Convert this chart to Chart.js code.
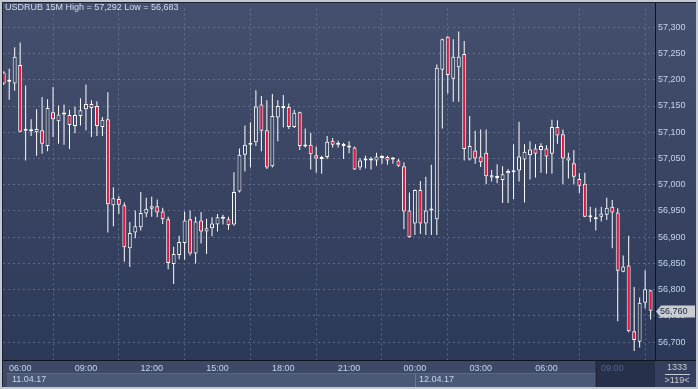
<!DOCTYPE html>
<html>
<head>
<meta charset="utf-8">
<script src="https://cdn.jsdelivr.net/npm/chart.js@4.4.0/dist/chart.umd.min.js"></script>
<style>
  html, body { margin: 0; padding: 0; background: #c4c8d0; }
  canvas { display: block; }
</style>
</head>
<body>
<canvas id="chart" width="698" height="389"></canvas>
<script>
// USDRUB 15M candles
const openP = [57214,57196,57193,57228,57103,57102,57100,57104,57074,57138,
  57121,57134,57133,57112,57131,57144,57154,57150,57110,57125,
  56961,56973,56961,56879,56909,56919,56945,56954,56959,56949,
  56934,56849,56866,56889,56934,56869,56932,56911,56917,56924,
  56935,56934,56924,56987,57057,57076,57081,57153,57104,57035,
  57128,57146,57148,57110,57138,57073,57076,57056,57049,57053,
  57084,57076,57074,57071,57071,57033,57046,57046,57046,57051,
  57053,57048,57046,57035,56951,56926,56990,56926,56951,56934,
  57219,57282,57202,57224,57249,57048,57065,57054,57061,57014,
  57013,57009,57022,57024,57027,57048,57056,57069,57066,57069,
  57059,57110,57096,57046,57041,57011,57002,56938,56934,56939,
  56943,56958,56947,56834,56846,56721,56701,56775,56799]
const highP = [57216,57221,57262,57271,57189,57125,57144,57167,57163,57186,
  57151,57153,57143,57149,57165,57191,57161,57159,57129,57176,
  56995,56978,56966,56929,56951,56986,56975,56977,56972,56956,
  56939,56882,56903,56949,56951,56939,56948,56935,56938,56944,
  56943,56939,57024,57069,57113,57119,57180,57169,57161,57173,
  57161,57171,57155,57143,57139,57107,57099,57073,57055,57093,
  57089,57084,57080,57083,57073,57051,57055,57053,57061,57056,
  57055,57053,57049,57043,56985,56991,57007,57015,57038,57229,
  57278,57283,57277,57292,57274,57131,57103,57105,57105,57028,
  57039,57035,57030,57077,57120,57077,57083,57077,57079,57075,
  57124,57123,57105,57061,57066,57022,57023,56958,56956,56958,
  56975,56971,56955,56865,56903,56805,56785,56837,56800]
const lowP = [57190,57162,57179,57100,57046,57093,57055,57059,57064,57091,
  57078,57076,57068,57098,57113,57104,57091,57093,57093,56909,
  56921,56944,56853,56843,56898,56913,56938,56939,56938,56925,
  56839,56811,56858,56857,56865,56850,56888,56868,56902,56911,
  56924,56914,56922,56985,57025,57033,57074,57064,57030,57033,
  57083,57109,57106,57108,57066,57071,57029,57023,57021,57049,
  57071,57071,57049,57060,57028,57028,57031,57029,57036,57040,
  57038,57040,57034,56915,56899,56904,56906,56904,56904,56904,
  57107,57174,57158,57158,57046,57046,57040,57034,57001,57006,
  57003,56965,56965,56973,57006,56966,57010,57014,57023,57021,
  57021,57078,57001,57012,57001,56984,56938,56929,56913,56930,
  56933,56879,56740,56833,56719,56683,56690,56764,56743]
const closeP = [57193,57197,57244,57101,57106,57102,57106,57078,57146,57125,
  57134,57134,57114,57133,57142,57154,57146,57112,57124,56963,
  56974,56962,56881,56908,56921,56946,56954,56959,56947,56934,
  56851,56868,56891,56932,56869,56930,56911,56917,56926,56938,
  56936,56923,56986,57057,57076,57080,57149,57103,57033,57131,
  57150,57146,57110,57137,57074,57076,57058,57050,57053,57082,
  57076,57076,57074,57071,57029,57046,57046,57046,57054,57051,
  57046,57048,57036,56949,56900,56990,56926,56951,56954,57223,
  57277,57209,57244,57244,57068,57074,57050,57043,57016,57018,
  57013,57020,57026,57024,57054,57063,57067,57059,57074,57054,
  57110,57094,57050,57052,57015,56998,56939,56938,56934,56945,
  56956,56947,56836,56844,56721,56704,56775,56801,56760]

const timeIdx = [3, 15, 27, 39, 51, 63, 75, 87, 99, 111]
const timeLabels = ["06:00", "09:00", "12:00", "15:00", "18:00", "21:00", "00:00", "03:00", "06:00", "09:00"]
const dateIdx = [0, 75]
const dateLabels = ["11.04.17", "12.04.17"]
const priceTicks = [56700, 56750, 56800, 56850, 56900, 56950, 57000, 57050, 57100, 57150, 57200, 57250, 57300]
const titleText = "USDRUB 15M High = 57,292 Low = 56,683"
const lastPrice = 56760
const liveFrom = 108
const barTotal = "1333"
const barShown = ">119<"

const FONT = "'Liberation Sans', Arial, sans-serif"
const tickColor = "#c4d4ee"
const gridColor = "rgba(125,140,170,0.55)"
const bearColor = "#e3163f"

const cv = document.getElementById("chart")
const c2d = cv.getContext("2d")
const bgGrad = c2d.createLinearGradient(0, 0, 0, 389)
bgGrad.addColorStop(0, "#44506d")
bgGrad.addColorStop(1, "#2b3756")

function fmt(v) {
    let s = String(Math.round(v))
    return s.slice(0, s.length - 3) + "," + s.slice(-3)
}

let wicks = []
let bodies = []
for (let i = 0; i < openP.length; i++) {
    wicks.push({x: i, y: [lowP[i], highP[i]]})
    bodies.push({x: i, y: [openP[i], closeP[i]]})
}

const frame = {
    id: "frame",
    beforeDraw(chart) {
        const ctx = chart.ctx
        const ca = chart.chartArea
        const xs = chart.scales.x
        ctx.save()
        ctx.fillStyle = "#c4c8d0"
        ctx.fillRect(0, 0, chart.width, chart.height)
        ctx.fillStyle = bgGrad
        ctx.fillRect(2, 2, chart.width - 4, chart.height - 4)
        // time strip + date strip
        ctx.fillStyle = "#3d4967"
        ctx.fillRect(ca.left, ca.bottom, ca.right - ca.left, 27)
        ctx.fillStyle = "#4b5977"
        ctx.fillRect(ca.left + 4, ca.bottom + 13, ca.right - ca.left - 4, 14)
        ctx.fillStyle = "#5a6885"
        ctx.fillRect(ca.left + 4, ca.bottom + 13, ca.right - ca.left - 4, 1)
        // dimmed live window
        const lx = xs.getPixelForValue(liveFrom)
        ctx.fillStyle = "#26304b"
        ctx.fillRect(lx, ca.bottom, ca.right - lx, 27)
        ctx.fillStyle = "#1d253b"
        ctx.fillRect(lx, ca.bottom, 1, 27)
        // right bottom corner
        ctx.fillStyle = "#34405d"
        ctx.fillRect(ca.right, ca.bottom, chart.width - 2 - ca.right, 27)
        ctx.restore()
    },
    afterDraw(chart) {
        const ctx = chart.ctx
        const ca = chart.chartArea
        const xs = chart.scales.x
        const ys = chart.scales.y
        ctx.save()
        ctx.fillStyle = "#10141f"
        ctx.fillRect(ca.right, 2, 1, ca.bottom - 2)
        ctx.fillRect(2, ca.bottom, chart.width - 4, 1)
        ctx.fillStyle = "#1c2336"
        ctx.fillRect(2, 2, chart.width - 4, 1)
        ctx.fillRect(2, 2, 1, chart.height - 4)

        ctx.font = "9px " + FONT
        ctx.textBaseline = "middle"
        ctx.textAlign = "left"
        ctx.fillStyle = "#d4def0"
        ctx.fillText(titleText, 5, 8)

        // dates
        ctx.fillStyle = "#c8d4ea"
        for (let i = 0; i < dateIdx.length; i++) {
            let px = i == 0 ? ca.left + 9 : xs.getPixelForValue(dateIdx[i]) + 4
            if (i > 0) {
                ctx.fillStyle = "#6a7894"
                ctx.fillRect(Math.round(xs.getPixelForValue(dateIdx[i])), ca.bottom + 14, 1, 13)
                ctx.fillStyle = "#c8d4ea"
            }
            ctx.fillText(dateLabels[i], px, ca.bottom + 20)
        }

        // bar counters
        ctx.textAlign = "center"
        ctx.fillStyle = "#c8ccd4"
        ctx.fillText(barTotal, 677, ca.bottom + 7.5)
        ctx.fillRect(665, ca.bottom + 14, 25, 1)
        ctx.fillText(barShown, 677, ca.bottom + 21)

        // last price label
        const py = Math.round(ys.getPixelForValue(lastPrice)) + 0.5
        ctx.fillStyle = "#c9cdd3"
        ctx.beginPath()
        ctx.moveTo(ca.right + 1, py)
        ctx.lineTo(ca.right + 6, py - 6)
        ctx.lineTo(chart.width - 3, py - 6)
        ctx.lineTo(chart.width - 3, py + 6)
        ctx.lineTo(ca.right + 6, py + 6)
        ctx.closePath()
        ctx.fill()
        ctx.textAlign = "left"
        ctx.fillStyle = "#1c2436"
        ctx.fillText(fmt(lastPrice), ca.right + 5, py + 0.5)
        ctx.restore()
    }
}

new Chart(cv, {
    type: "bar",
    data: {
        datasets: [{
            data: wicks,
            backgroundColor: "#ffffff",
            borderWidth: 0,
            maxBarThickness: 1,
            grouped: false,
            clip: 0,
            order: 2
        }, {
            data: bodies,
            backgroundColor: c => closeP[c.dataIndex] >= openP[c.dataIndex] ? bgGrad : bearColor,
            borderColor: "#ffffff",
            borderWidth: 1,
            borderSkipped: false,
            maxBarThickness: 4,
            minBarLength: 2,
            grouped: false,
            clip: 0,
            order: 1
        }]
    },
    options: {
        responsive: false,
        animation: false,
        layout: { padding: { left: 3, top: 3, right: 0, bottom: 0 } },
        plugins: { legend: { display: false }, tooltip: { enabled: false } },
        scales: {
            x: {
                type: "linear",
                position: "bottom",
                min: -0.13,
                max: 118.8,
                offset: false,
                afterBuildTicks: s => { s.ticks = timeIdx.map(v => ({value: v})) },
                afterFit: s => { s.height = 29 },
                ticks: {
                    autoSkip: false,
                    maxRotation: 0,
                    padding: 3,
                    font: { family: FONT, size: 9 },
                    color: c => c.index == timeIdx.length - 1 ? "#56668a" : tickColor,
                    callback: (v, i) => timeLabels[i]
                },
                grid: { color: gridColor, drawTicks: false },
                border: { display: false, dash: [2, 3] }
            },
            y: {
                position: "right",
                min: 56666,
                max: 57336,
                afterBuildTicks: s => { s.ticks = priceTicks.map(v => ({value: v})) },
                afterFit: s => { s.width = 43 },
                ticks: {
                    padding: 3,
                    font: { family: FONT, size: 9 },
                    color: tickColor,
                    callback: v => fmt(v)
                },
                grid: { color: gridColor, drawTicks: false },
                border: { display: false, dash: [2, 3] }
            }
        }
    },
    plugins: [frame]
})
</script>
</body>
</html>
